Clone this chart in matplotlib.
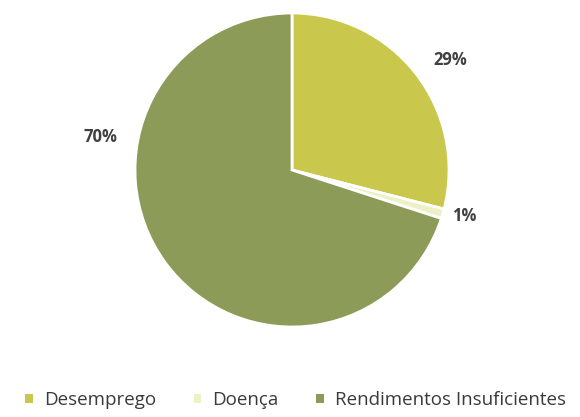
import matplotlib.pyplot as plt
from matplotlib.patches import Patch

categories = ["Desemprego", "Doença", "Rendimentos Insuficientes"]
values = [29, 1, 70]
labels = ["29%", "1%", "70%"]
colors = ["#c9c84c", "#eef0c6", "#8c9b57"]

# label spots, in pie radius units
label_pos = [(1.01, 0.70), (1.10, -0.29), (-1.22, 0.21)]

plt.rcParams["font.family"] = ["Open Sans", "DejaVu Sans"]

fig = plt.figure(figsize=(5.8, 4.17), dpi=100)
r = 157
cx, cy = 292, 170
ax = fig.add_axes([(cx - r) / 580, (417 - cy - r) / 417, 2 * r / 580, 2 * r / 417])
ax.pie(values, colors=colors, startangle=90, counterclock=False,
       wedgeprops=dict(edgecolor="white", linewidth=2), radius=1)
ax.set_xlim(-1, 1)
ax.set_ylim(-1, 1)
ax.set_aspect("equal")

for (x, y), t in zip(label_pos, labels):
    ax.text(x, y, t, ha="center", va="center", fontsize=12,
            fontweight="bold", color="#404040")

handles = [Patch(facecolor=c, edgecolor="none") for c in colors]
fig.legend(handles, categories, loc="center", bbox_to_anchor=(0.51, 0.04),
           ncol=3, frameon=False, fontsize=13.5, handlelength=0.4, handleheight=0.4,
           columnspacing=2.0, handletextpad=0.6, labelcolor="#3a3a3a",
           prop=dict(weight="medium", size=13.5))

fig.savefig("out.png", dpi=100)
